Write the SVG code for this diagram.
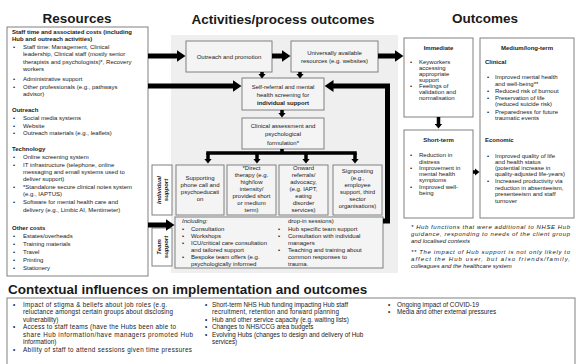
<svg xmlns="http://www.w3.org/2000/svg" width="576" height="364" viewBox="0 0 576 364">
<defs>
<style>
text{font-family:"Liberation Sans",Arial,sans-serif;fill:#1a1a1a;font-size:6px}
.h{font-size:13.5px;font-weight:bold}
.b{font-weight:bold}
.i{font-style:italic}
.c{text-anchor:middle}
.ctx{font-size:6.3px}
.box{fill:#f4f4f4;stroke:#808080;stroke-width:1}
.wbox{fill:#fff;stroke:#808080;stroke-width:1}
.thick{fill:none;stroke:#000;stroke-width:5;stroke-linejoin:miter}
.thin{fill:none;stroke:#000;stroke-width:3.5;stroke-linejoin:miter}
</style>
<marker id="big" markerUnits="userSpaceOnUse" viewBox="0 0 9 12" markerWidth="9" markerHeight="12" refX="0.5" refY="6" orient="auto"><path d="M0,0 L9,6 L0,12 z" fill="#000"/></marker>
<marker id="sm" markerUnits="userSpaceOnUse" viewBox="0 0 5 8" markerWidth="5" markerHeight="8" refX="0.5" refY="4" orient="auto"><path d="M0,0 L5,4 L0,8 z" fill="#000"/></marker>
</defs>
<rect x="171" y="35" width="227" height="238" fill="#efefef"/>
<text class="h c" x="283" y="24">Activities/process outcomes</text>
<text class="h c" x="485" y="23">Outcomes</text>

<g id="resources">
<text class="h c" x="77" y="23">Resources</text>
<rect class="wbox" x="7" y="27" width="141" height="249"/>
<text class="b" x="12" y="34">Staff time and associated costs (including</text>
<text class="b" x="12" y="40.5">Hub and outreach activities)</text>
<text x="13" y="48.5">•</text><text x="23" y="48.5">Staff time: Management, Clinical</text>
<text x="23" y="55.5">leadership, Clinical staff (mostly senior</text>
<text x="23" y="63.5">therapists and psychologists)*, Recovery</text>
<text x="23" y="70.5">workers</text>
<text x="13" y="81">•</text><text x="23" y="81">Administrative support</text>
<text x="13" y="88.5">•</text><text x="23" y="88.5">Other professionals (e.g., pathways</text>
<text x="23" y="95.5">advisor)</text>
<text class="b" x="12" y="112">Outreach</text>
<text x="13" y="120">•</text><text x="23" y="120">Social media systems</text>
<text x="13" y="127.5">•</text><text x="23" y="127.5">Website</text>
<text x="13" y="135">•</text><text x="23" y="135">Outreach materials (e.g., leaflets)</text>
<text class="b" x="12" y="150.5">Technology</text>
<text x="13" y="159">•</text><text x="23" y="159">Online screening system</text>
<text x="13" y="166.5">•</text><text x="23" y="166.5">IT infrastructure (telephone, online</text>
<text x="23" y="173.5">messaging and email systems used to</text>
<text x="23" y="180.5">deliver support)</text>
<text x="13" y="188.5">•</text><text x="23" y="188.5">*Standalone secure clinical notes system</text>
<text x="23" y="195.5">(e.g., IAPTUS)</text>
<text x="13" y="204">•</text><text x="23" y="204">Software for mental health care and</text>
<text x="23" y="212">delivery (e.g., Limbic AI, Mentimeter)</text>
<text class="b" x="12" y="230">Other costs</text>
<text x="13" y="238">•</text><text x="23" y="238">Estates/overheads</text>
<text x="13" y="246">•</text><text x="23" y="246">Training materials</text>
<text x="13" y="254">•</text><text x="23" y="254">Travel</text>
<text x="13" y="262">•</text><text x="23" y="262">Printing</text>
<text x="13" y="270">•</text><text x="23" y="270">Stationery</text>
</g>

<g id="outreach">
<rect class="box" x="186" y="41" width="86" height="31"/>
<text class="c" x="229" y="58.5">Outreach and promotion</text>
</g>
<g id="universal">
<rect class="box" x="291" y="41" width="87" height="31"/>
<text class="c" x="334.5" y="55">Universally available</text>
<text class="c" x="334.5" y="63">resources (e.g. websites)</text>
</g>
<g id="selfreferral">
<rect class="box" x="242" y="78" width="82" height="32"/>
<text class="c" x="283" y="89">Self-referral and mental</text>
<text class="c" x="283" y="97">health screening for</text>
<text class="c b" x="283" y="105">individual  support</text>
</g>
<g id="clinical">
<rect class="box" x="242" y="118" width="82" height="31"/>
<text class="c" x="283" y="128">Clinical assessment and</text>
<text class="c" x="283" y="136">psychological</text>
<text class="c" x="283" y="144.5">formulation*</text>
</g>
<g id="individual-label">
<rect class="wbox" x="152" y="165" width="20" height="50"/>
<g transform="translate(162,190) rotate(-90)">
<text class="c b i" x="0" y="-1">Individual</text>
<text class="c b i" x="0" y="5.5">support</text>
</g>
</g>
<g id="supporting">
<rect class="box" x="176" y="165" width="48" height="50"/>
<text class="c" x="200" y="180">Supporting</text>
<text class="c" x="200" y="187">phone call and</text>
<text class="c" x="200" y="194">psychoeducati</text>
<text class="c" x="200" y="201">on</text>
</g>
<g id="direct">
<rect class="box" x="227" y="165" width="49" height="50"/>
<text class="c" x="251.5" y="169.5">*Direct</text>
<text class="c" x="251.5" y="176.5">therapy (e.g.</text>
<text class="c" x="251.5" y="183.5">high/low</text>
<text class="c" x="251.5" y="190.5">intensity/</text>
<text class="c" x="251.5" y="197.5">provided short</text>
<text class="c" x="251.5" y="204.5">or medium</text>
<text class="c" x="251.5" y="211.5">term)</text>
</g>
<g id="onward">
<rect class="box" x="279" y="165" width="49" height="50"/>
<text class="c" x="303.5" y="169.5">Onward</text>
<text class="c" x="303.5" y="176.5">referrals/</text>
<text class="c" x="303.5" y="183.5">advocacy,</text>
<text class="c" x="303.5" y="190.5">(e.g. IAPT,</text>
<text class="c" x="303.5" y="197.5">eating</text>
<text class="c" x="303.5" y="204.5">disorder</text>
<text class="c" x="303.5" y="211.5">services)</text>
</g>
<g id="signposting">
<rect class="box" x="333" y="165" width="49" height="50"/>
<text class="c" x="357.5" y="173">Signposting</text>
<text class="c" x="357.5" y="180">(e.g.,</text>
<text class="c" x="357.5" y="187">employee</text>
<text class="c" x="357.5" y="194">support, third</text>
<text class="c" x="357.5" y="201">sector</text>
<text class="c" x="357.5" y="208">organisations)</text>
</g>
<g id="team-label">
<rect class="wbox" x="152" y="228" width="20" height="38"/>
<g transform="translate(162,247) rotate(-90)">
<text class="c b i" x="0" y="-1">Team</text>
<text class="c b i" x="0" y="5.5">support</text>
</g>
</g>
<g id="team">
<rect class="box" x="175" y="217" width="208" height="51"/>
<text class="i" x="182" y="222.5">Including:</text>
<text x="182" y="231">•</text><text x="191" y="231">Consultation</text>
<text x="182" y="238">•</text><text x="191" y="238">Workshops</text>
<text x="182" y="245">•</text><text x="191" y="245">ICU/critical care consultation</text>
<text x="191" y="251.5">and tailored support</text>
<text x="182" y="259">•</text><text x="191" y="259">Bespoke team offers (e.g.</text>
<text x="191" y="265.5">psychologically informed</text>
<text x="288" y="222.5">drop-in sessions)</text>
<text x="278" y="231">•</text><text x="288" y="231">Hub specific team support</text>
<text x="278" y="238">•</text><text x="288" y="238">Consultation with individual</text>
<text x="288" y="245">managers</text>
<text x="278" y="251.5">•</text><text x="288" y="251.5">Teaching and training about</text>
<text x="288" y="259">common responses to</text>
<text x="288" y="265.5">trauma.</text>
</g>

<g id="immediate">
<rect class="wbox" x="404" y="38" width="69" height="79"/>
<text class="c b" x="438.5" y="49.5">Immediate</text>
<text x="410" y="64">•</text><text x="419" y="64">Keyworkers</text>
<text x="419" y="70">accessing</text>
<text x="419" y="76">appropriate</text>
<text x="419" y="82">support</text>
<text x="410" y="88">•</text><text x="419" y="88">Feelings of</text>
<text x="419" y="94">validation and</text>
<text x="419" y="100">normalisation</text>
</g>
<g id="shortterm">
<rect class="wbox" x="404" y="130" width="69" height="88"/>
<text class="c b" x="438.5" y="142">Short-term</text>
<text x="410" y="157">•</text><text x="419" y="157">Reduction in</text>
<text x="419" y="163.5">distress</text>
<text x="410" y="170">•</text><text x="419" y="170">Improvement in</text>
<text x="419" y="176">mental health</text>
<text x="419" y="182">symptoms</text>
<text x="410" y="189">•</text><text x="419" y="189">Improved well-</text>
<text x="419" y="195">being</text>
</g>
<g id="mediumlong">
<rect class="wbox" x="480" y="38" width="94" height="180"/>
<text class="c b" x="527" y="49.5">Medium/long-term</text>
<text class="b" x="485" y="64">Clinical</text>
<text x="487" y="79">•</text><text x="495" y="79">Improved mental health</text>
<text x="495" y="85.5">and well-being**</text>
<text x="487" y="93">•</text><text x="495" y="93">Reduced risk of burnout</text>
<text x="487" y="99.5">•</text><text x="495" y="99.5">Preservation of life</text>
<text x="495" y="106">(reduced suicide risk)</text>
<text x="487" y="113.5">•</text><text x="495" y="113.5">Preparedness for future</text>
<text x="495" y="120">traumatic events</text>
<text class="b" x="485" y="142">Economic</text>
<text x="487" y="158">•</text><text x="495" y="158">Improved quality of life</text>
<text x="495" y="164">and health status</text>
<text x="495" y="170">(potential increase in</text>
<text x="495" y="176">quality-adjusted life-years)</text>
<text x="487" y="183">•</text><text x="495" y="183">Increased productivity via</text>
<text x="495" y="189.5">reduction in absenteeism,</text>
<text x="495" y="196">presenteeism and staff</text>
<text x="495" y="202.5">turnover</text>
</g>

<g id="footnotes">
<text class="i" x="411" y="229" textLength="159" lengthAdjust="spacing">* Hub functions that were additional to NHSE Hub</text>
<text class="i" x="411" y="236" textLength="159" lengthAdjust="spacing">guidance, responding to needs of the client group</text>
<text class="i" x="411" y="243">and localised contexts</text>
<text class="i" x="411" y="254" textLength="159" lengthAdjust="spacing">** The impact of Hub support is not only likely to</text>
<text class="i" x="411" y="261" textLength="159" lengthAdjust="spacing">affect the Hub user, but also friends/family,</text>
<text class="i" x="411" y="268">colleagues and the healthcare system</text>
</g>

<g id="context">
<text class="h" x="8" y="294">Contextual influences on implementation and outcomes</text>
<rect class="wbox" x="7" y="298" width="568" height="70"/>
<text class="ctx" x="13" y="306.5">•</text><text class="ctx" x="23" y="306.5" textLength="144" lengthAdjust="spacing">Impact of stigma &amp; beliefs about job roles (e.g.</text>
<text class="ctx" x="23" y="314" textLength="150" lengthAdjust="spacing">reluctance amongst certain groups about disclosing</text>
<text class="ctx" x="23" y="321.5">vulnerability)</text>
<text class="ctx" x="13" y="329">•</text><text class="ctx" x="23" y="329" textLength="153" lengthAdjust="spacing">Access to staff teams (have the Hubs been able to</text>
<text class="ctx" x="23" y="336.5" textLength="170" lengthAdjust="spacing">share Hub information/have managers promoted Hub</text>
<text class="ctx" x="23" y="344">information)</text>
<text class="ctx" x="13" y="351.5">•</text><text class="ctx" x="23" y="351.5" textLength="169" lengthAdjust="spacing">Ability of staff to attend sessions given time pressures</text>
<text class="ctx" x="205" y="306.5">•</text><text class="ctx" x="212" y="306.5" textLength="136" lengthAdjust="spacing">Short-term NHS Hub funding impacting Hub staff</text>
<text class="ctx" x="212" y="314" textLength="127" lengthAdjust="spacing">recruitment, retention and forward planning</text>
<text class="ctx" x="205" y="321.5">•</text><text class="ctx" x="212" y="321.5">Hub and other service capacity (e.g. waiting lists)</text>
<text class="ctx" x="205" y="329">•</text><text class="ctx" x="212" y="329">Changes to NHS/CCG area budgets</text>
<text class="ctx" x="205" y="336.5">•</text><text class="ctx" x="212" y="336.5">Evolving Hubs (changes to design and delivery of Hub</text>
<text class="ctx" x="212" y="344">services)</text>
<text class="ctx" x="388" y="306.5">•</text><text class="ctx" x="397" y="306.5">Ongoing impact of COVID-19</text>
<text class="ctx" x="388" y="314">•</text><text class="ctx" x="397" y="314">Media and other external pressures</text>
</g>

<g id="connectors">
<path class="thick" d="M148,56 H177" marker-end="url(#big)"/>
<path class="thick" d="M148,86 H233" marker-end="url(#big)"/>
<path class="thick" d="M148,225 H166" marker-end="url(#big)"/>
<path class="thick" d="M272,56 H282" marker-end="url(#big)"/>
<path class="thick" d="M378,56 H395" marker-end="url(#big)"/>
<path class="thick" d="M383,221 H387.5 V86 H333" marker-end="url(#big)"/>
<path class="thin" d="M262,72 V74" marker-end="url(#sm)"/>
<path class="thin" d="M300,72 V74" marker-end="url(#sm)"/>
<path class="thin" d="M282,110 V113" marker-end="url(#sm)"/>
<path class="thin" d="M282,149 V153 M206.25,153 H356.75"/>
<path class="thin" d="M208,153 V159" marker-end="url(#sm)"/>
<path class="thin" d="M257,153 V159" marker-end="url(#sm)"/>
<path class="thin" d="M306,153 V159" marker-end="url(#sm)"/>
<path class="thin" d="M355,153 V159" marker-end="url(#sm)"/>
<path class="thin" d="M438.5,117 V124" marker-end="url(#sm)"/>
<path class="thin" d="M473,172 H475" marker-end="url(#sm)"/>
</g>
</svg>
